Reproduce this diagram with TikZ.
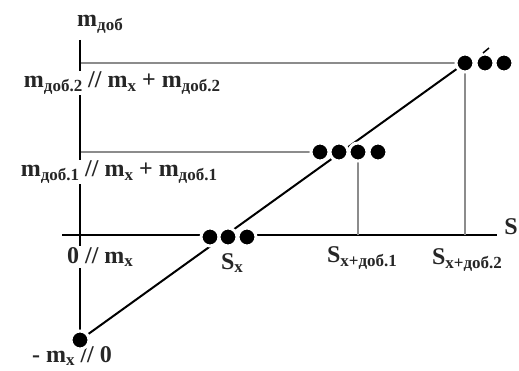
\documentclass[tikz,border=0pt]{standalone}
\usepackage{fontspec}
\setmainfont{Liberation Serif}
\usetikzlibrary{backgrounds}
\newcommand{\sbs}[1]{\raisebox{-0.35ex}{\fontsize{17}{19}\selectfont #1}}
\tikzset{
  dot/.style={circle, fill=black, draw=white, line width=3pt, inner sep=0pt, minimum size=18pt},
  lbl/.style={font=\fontsize{24}{27}\selectfont\bfseries, text=black!85, inner sep=1pt},
  guide/.style={draw=black!45, line width=1.3pt},
  axisline/.style={line width=2pt}
}
\begin{document}
\begin{tikzpicture}[x=1pt,y=-1pt]
\useasboundingbox (0,0) rectangle (519,371);
\node[lbl] (maxis) at (100,24) {m\sbs{доб}};
\node[lbl, fill=white] (madd2) at (122,83) {m\sbs{доб.2} // m\sbs{x} + m\sbs{доб.2}};
\node[lbl, fill=white] (madd1) at (119,172) {m\sbs{доб.1} // m\sbs{x} + m\sbs{доб.1}};
\node[lbl, fill=white] (zero) at (100,257) {0 // m\sbs{x}};
\node[lbl] (negmx) at (72,356) {- m\sbs{x} // 0};
\node[lbl] (sx) at (232,263) {S\sbs{x}};
\node[lbl] (sx1) at (362,258) {S\sbs{x+доб.1}};
\node[lbl] (sx2) at (467,260) {S\sbs{x+доб.2}};
\node[lbl] (saxis) at (511,227) {S};
\coordinate (ytop) at (80,40);
\coordinate (xleft) at (62,235);
\coordinate (xright) at (497,235);
\coordinate (y2) at (81,63);
\coordinate (y1) at (81,152);
\node[dot] (m0) at (80,340) {};
\node[dot] (b1) at (210,237) {};
\node[dot] (b2) at (228,237) {};
\node[dot] (b3) at (247,237) {};
\node[dot] (m1) at (320,152) {};
\node[dot] (m2) at (339,152) {};
\node[dot] (m3) at (358,152) {};
\node[dot] (m4) at (378,152) {};
\node[dot] (t1) at (465,63) {};
\node[dot] (t2) at (485,63) {};
\node[dot] (t3) at (504,63) {};
\draw[line width=1.5pt] (483,53) -- (489,48);
\begin{scope}[on background layer]
\draw[axisline] (ytop) -- (m0);
\draw[axisline] (xleft) -- (xright);
\draw[guide] (y2) -- (t1);
\draw[guide] (y1) -- (m1);
\draw[guide] (m3) -- (m3 |- xleft);
\draw[guide] (t1) -- (t1 |- xleft);
\draw[axisline] (m0) -- (t1);
\end{scope}
\end{tikzpicture}
\end{document}
